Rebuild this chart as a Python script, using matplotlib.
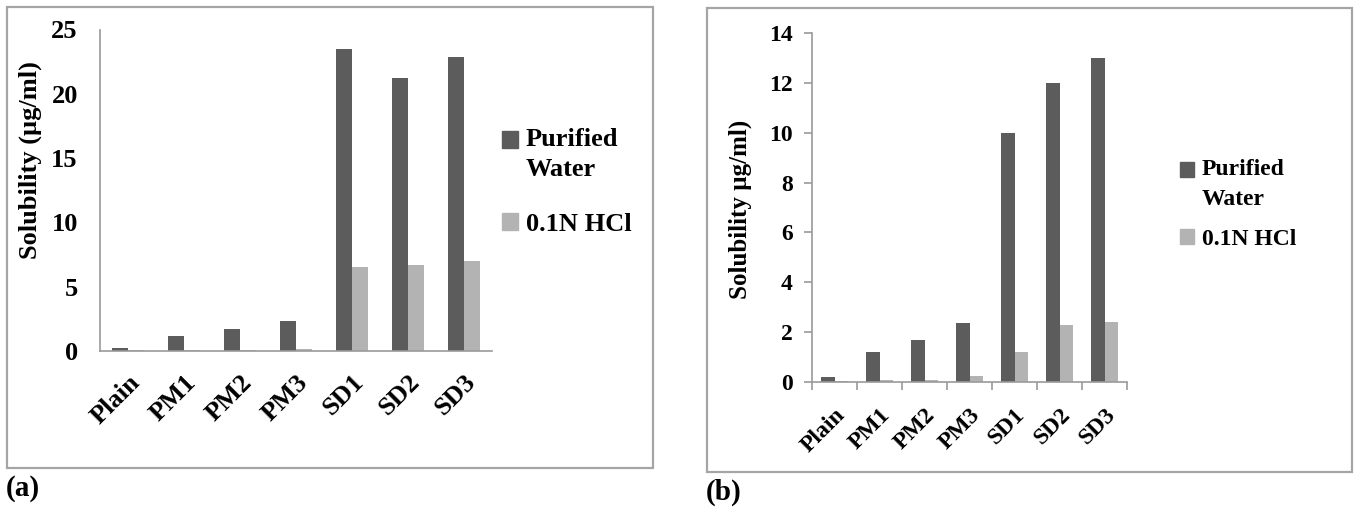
import matplotlib
matplotlib.use("Agg")
import matplotlib.pyplot as plt
import numpy as np
from matplotlib.legend_handler import HandlerPatch
from matplotlib.patches import Patch, Rectangle

plt.rcParams["font.family"] = ["Liberation Serif", "DejaVu Serif"]
plt.rcParams["font.weight"] = "bold"

categories = ["Plain", "PM1", "PM2", "PM3", "SD1", "SD2", "SD3"]

# panel (a)
water_a = [0.2, 1.2, 1.7, 2.3, 23.5, 21.2, 22.9]
hcl_a = [0.1, 0.1, 0.05, 0.15, 6.5, 6.7, 7.0]
yticks_a = [0, 5, 10, 15, 20, 25]

# panel (b)
water_b = [0.2, 1.2, 1.7, 2.35, 10.0, 12.0, 13.0]
hcl_b = [0.05, 0.1, 0.1, 0.25, 1.2, 2.3, 2.4]
yticks_b = [0, 2, 4, 6, 8, 10, 12, 14]

series_names = ["Purified\nWater", "0.1N HCl"]
dark = "#5c5c5c"
light = "#b3b3b3"
spine = "#9a9a9a"

W, H = 1357, 507
fig = plt.figure(figsize=(W / 100, H / 100), dpi=100)


class FirstLineHandler(HandlerPatch):
    """Legend square lifted next to the first line of a two-line label."""

    def __init__(self, shift, **kw):
        super().__init__(**kw)
        self.shift = shift

    def create_artists(self, legend, orig_handle, xdescent, ydescent, width, height,
                       fontsize, trans):
        p = Rectangle((-xdescent, -ydescent + self.shift * fontsize), width, height)
        self.update_prop(p, orig_handle, legend)
        p.set_transform(trans)
        return [p]


def px_axes(left, top, right, bottom):
    return fig.add_axes([left / W, 1 - bottom / H, (right - left) / W, (bottom - top) / H])


def draw_panel(ax, water, hcl, yticks, width, show_ticks, xfs, yfs):
    x = np.arange(len(categories))
    ax.bar(x - width / 2, water, width, color=dark)
    ax.bar(x + width / 2, hcl, width, color=light)
    ax.set_xlim(-0.5, len(categories) - 0.5)
    ax.set_ylim(yticks[0], yticks[-1])
    ax.set_yticks(yticks)
    ax.set_xticks(x)
    ax.set_xticklabels(categories, rotation=45, ha="right", rotation_mode="anchor",
                       fontsize=xfs, fontweight="bold")
    ax.tick_params(axis="y", labelsize=yfs)
    for s in ("top", "right"):
        ax.spines[s].set_visible(False)
    for s in ("left", "bottom"):
        ax.spines[s].set_color(spine)
        ax.spines[s].set_linewidth(1.2)
    if show_ticks:
        ax.set_xticks(np.arange(len(categories) + 1) - 0.5, minor=True)
        ax.tick_params(axis="x", which="major", length=0, pad=16)
        ax.tick_params(axis="x", which="minor", length=6, color=spine, width=1.2)
        ax.tick_params(axis="y", length=6, color=spine, width=1.2, pad=8)
    else:
        ax.tick_params(axis="both", length=0)
        ax.tick_params(axis="y", pad=16)
        ax.tick_params(axis="x", pad=14)
    ax.patch.set_alpha(0)


# outer frames
fig.patches.append(Rectangle((7 / W, 1 - 468 / H), 646 / W, 461 / H, transform=fig.transFigure,
                             fill=False, edgecolor="#a5a5a5", linewidth=1.6))
fig.patches.append(Rectangle((707 / W, 1 - 472 / H), 645 / W, 464 / H, transform=fig.transFigure,
                             fill=False, edgecolor="#a5a5a5", linewidth=1.6))

ax_a = px_axes(100, 29.5, 492, 351)
draw_panel(ax_a, water_a, hcl_a, yticks_a, 0.28, False, 19, 19)
ax_a.set_ylabel("Solubility (µg/ml)", fontsize=19, fontweight="bold")
ax_a.yaxis.set_label_coords(-0.148, 0.594)

ax_b = px_axes(812, 33, 1127, 382)
draw_panel(ax_b, water_b, hcl_b, yticks_b, 0.3, True, 17, 17)
ax_b.set_ylabel("Solubility µg/ml)", fontsize=18, fontweight="bold")
ax_b.yaxis.set_label_coords(-0.19, 0.496)

handles = [Patch(color=dark), Patch(color=light)]
leg_a = fig.legend(handles, series_names, loc="upper left", bbox_to_anchor=(478 / W, 1 - 104 / H),
                   frameon=False, prop={"size": 19, "weight": "bold"}, handlelength=0.6,
                   handleheight=0.6, handletextpad=0.3, labelspacing=1.2,
                   handler_map={handles[0]: FirstLineHandler(0.55)})
leg_b = fig.legend(handles, series_names, loc="upper left", bbox_to_anchor=(1159 / W, 1 - 138 / H),
                   frameon=False, prop={"size": 17, "weight": "bold"}, handlelength=0.6,
                   handleheight=0.6, handletextpad=0.3, labelspacing=0.8,
                   handler_map={handles[0]: FirstLineHandler(0.62)})
for t in leg_a.get_texts():
    t.set_linespacing(1.4)
for t in leg_b.get_texts():
    t.set_linespacing(1.55)

fig.text(6 / W, 1 - 488 / H, "(a)", fontsize=21, fontweight="bold", va="center")
fig.text(706 / W, 1 - 492 / H, "(b)", fontsize=21, fontweight="bold", va="center")

fig.savefig("out.png", dpi=100)
